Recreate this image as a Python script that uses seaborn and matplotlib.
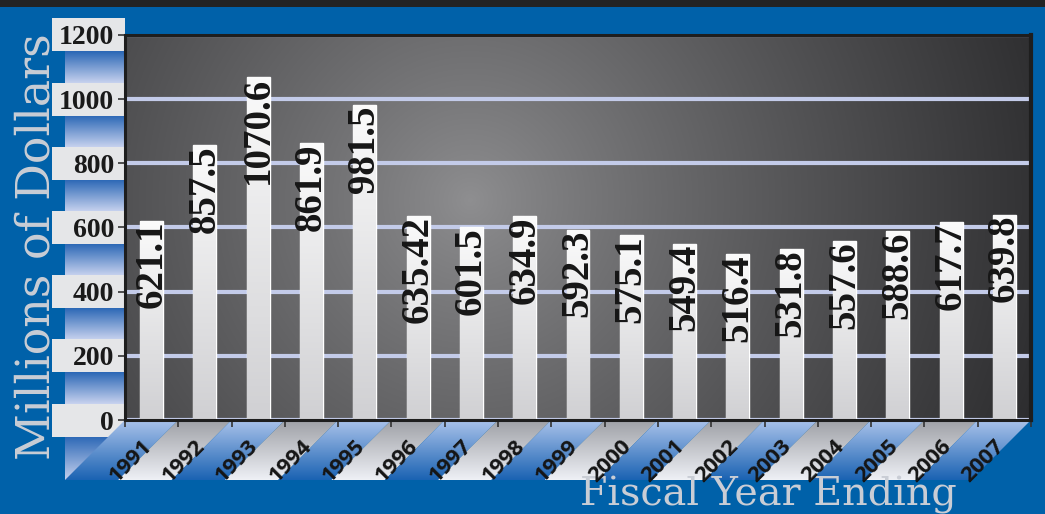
import numpy as np
import pandas as pd
import seaborn as sns
import matplotlib
matplotlib.use("Agg")
import matplotlib.pyplot as plt
from matplotlib.patches import Polygon, Rectangle
from matplotlib.colors import to_rgb
from matplotlib.transforms import ScaledTranslation

# ---------------- data ----------------
years = ["1991", "1992", "1993", "1994", "1995", "1996", "1997", "1998", "1999",
         "2000", "2001", "2002", "2003", "2004", "2005", "2006", "2007"]
values = [621.1, 857.5, 1070.6, 861.9, 981.5, 635.42, 601.5, 634.9, 592.3,
          575.1, 549.4, 516.4, 531.8, 557.6, 588.6, 617.7, 639.8]
value_labels = ["621.1", "857.5", "1070.6", "861.9", "981.5", "635.42", "601.5",
                "634.9", "592.3", "575.1", "549.4", "516.4", "531.8", "557.6",
                "588.6", "617.7", "639.8"]
y_ticks = [0, 200, 400, 600, 800, 1000, 1200]
y_tick_labels = ["0", "200", "400", "600", "800", "1000", "1200"]
y_label = "Millions of Dollars"
x_label = "Fiscal Year Ending"

# ---------------- style ----------------
sns.set_theme(style="white")
plt.rcParams["font.family"] = ["Liberation Serif", "DejaVu Serif"]

W, H = 1045, 514
fig = plt.figure(figsize=(W / 100, H / 100), dpi=100)
fig.patch.set_facecolor("#0061a9")

deco = fig.add_axes([0, 0, 1, 1], zorder=0)
deco.axis("off")

ax = fig.add_axes([125 / W, 94 / H, 906 / W, 385 / H], zorder=1)
ax.patch.set_visible(False)

df = pd.DataFrame({"year": years, "value": values})
sns.barplot(data=df, x="year", y="value", order=years, color="#e6e6e8",
            saturation=1, width=0.43, ax=ax, zorder=1)
bars = list(ax.patches)

ax.set_xlim(-0.5, len(years) - 0.5)
ax.set_ylim(0, 1200)

# background gradient of plot area
u = np.linspace(0, 906, 300)
v = np.linspace(0, 385, 150)
U, V = np.meshgrid(u, v)
d = np.hypot(U - 345, V - 165)
t = np.clip(d / 640, 0, 1) ** 0.85
c0 = np.array(to_rgb("#8f8f91"))
c1 = np.array(to_rgb("#28282a"))
bg = c0 + (c1 - c0) * t[..., None]
ax.imshow(bg, extent=[-0.5, len(years) - 0.5, 0, 1200], origin="upper",
          aspect="auto", zorder=0, interpolation="bilinear")

# bar gradients
g = np.linspace(0, 1, 100)[:, None, None]
btop = np.array(to_rgb("#fbfbfb"))
bbot = np.array(to_rgb("#d0d0d3"))
gimg = btop + (bbot - btop) * g
for p in bars:
    x0, w, h = p.get_x(), p.get_width(), p.get_height()
    im = ax.imshow(gimg, extent=[x0, x0 + w, 0, h], origin="upper",
                   aspect="auto", zorder=1.1)
    im.set_clip_path(p)

ax.set_xlim(-0.5, len(years) - 0.5)
ax.set_ylim(0, 1200)

# grid
ax.set_axisbelow(True)
ax.yaxis.grid(True, color="#c3cbe9", linewidth=3)
ax.xaxis.grid(False)

for name, s in ax.spines.items():
    s.set_color("#1e1e1e")
    s.set_linewidth(2.2)
ax.spines["right"].set_linewidth(3)

# y ticks
ax.set_yticks(y_ticks)
ax.set_yticklabels(y_tick_labels, fontsize=20, fontweight="bold", color="#1a1a1a")
ax.tick_params(axis="y", left=True, direction="out", length=5, width=1.2,
               color="#333333", pad=3)
ax.set_ylabel("")
ax.set_xlabel("")

# x ticks
ax.set_xticks(range(len(years)))
ax.set_xticks(np.arange(-0.5, len(years), 1), minor=True)
ax.tick_params(axis="x", which="major", bottom=False, length=0, pad=26)
ax.tick_params(axis="x", which="minor", bottom=True, direction="out", length=5,
               width=1.2, color="#333333")
ax.set_xticklabels(years, rotation=45, rotation_mode="anchor", ha="center",
                   va="center", fontsize=16, fontweight="bold", color="#151515",
                   family=["Open Sans", "DejaVu Sans"])

# value labels
for i, (val, lab) in enumerate(zip(values, value_labels)):
    ax.text(i, val, lab, rotation=90, ha="center", va="top", fontsize=28,
            fontweight="bold", color="#161616", zorder=3)

# ---------------- decoration in pixel space ----------------
deco.set_xlim(0, W)
deco.set_ylim(H, 0)

deco.add_patch(Rectangle((0, 0), W, 7, facecolor="#232323", edgecolor="none", zorder=5))

tick_px = sorted(H - ax.transData.transform((0, tv))[1] for tv in y_ticks)
yb = H - ax.transData.transform((0, 0))[1]
half = 16.5
strip_top, strip_bot = 20, 480
rows = np.arange(strip_top, strip_bot) + 0.5
gaps = [(tick_px[k] + half, tick_px[k + 1] - half) for k in range(len(tick_px) - 1)]
gaps.append((tick_px[-1] + half, strip_bot))
phase = np.ones_like(rows)
for g0, g1 in gaps:
    m = (rows >= g0) & (rows <= g1)
    phase[m] = (rows[m] - g0) / (g1 - g0)
sd = np.array(to_rgb("#2c68b6"))
sl = np.array(to_rgb("#c6d1ee"))
strip = (sd + (sl - sd) * phase[:, None])[:, None, :]
deco.imshow(strip, extent=[65, 125, strip_bot, strip_top], origin="upper",
            aspect="auto", zorder=1)

for yp in tick_px:
    deco.add_patch(Rectangle((52, yp - half), 73, 2 * half, facecolor="#e5e6e8",
                             edgecolor="none", zorder=2))

# diagonal bands under x axis
xb = [ax.transData.transform((i - 0.5, 0))[0] for i in range(len(years) + 1)]
shift = 60
gg = np.linspace(0, 1, 60)[:, None, None]
blue_t, blue_b = np.array(to_rgb("#a9c2ea")), np.array(to_rgb("#1b63b3"))
gray_t, gray_b = np.array(to_rgb("#9fa1a7")), np.array(to_rgb("#eef0f5"))
for i in range(len(years)):
    pts = [(xb[i], yb), (xb[i + 1], yb), (xb[i + 1] - shift, yb + shift),
           (xb[i] - shift, yb + shift)]
    poly = Polygon(pts, closed=True, facecolor="none", edgecolor="none", zorder=3)
    deco.add_patch(poly)
    if i % 2 == 0:
        img = blue_t + (blue_b - blue_t) * gg
    else:
        img = gray_t + (gray_b - gray_t) * gg
    im = deco.imshow(img, extent=[xb[i] - shift, xb[i + 1], yb + shift, yb],
                     origin="upper", aspect="auto", zorder=3)
    im.set_clip_path(poly)

deco.text(37, 247, y_label, rotation=90, ha="center", va="center", fontsize=33,
          color="#c9cdd5", zorder=6, family="DejaVu Serif")
deco.text(768, 505, x_label, ha="center", va="baseline", fontsize=28.5,
          color="#c9cdd5", zorder=6, family="DejaVu Serif")

deco.set_xlim(0, W)
deco.set_ylim(H, 0)

# shift x tick labels to sit on the bands
off = ScaledTranslation(-21 / 100, -5 / 100, fig.dpi_scale_trans)
for lab in ax.get_xticklabels():
    lab.set_transform(lab.get_transform() + off)

fig.savefig("out.png", dpi=100, facecolor=fig.get_facecolor())
